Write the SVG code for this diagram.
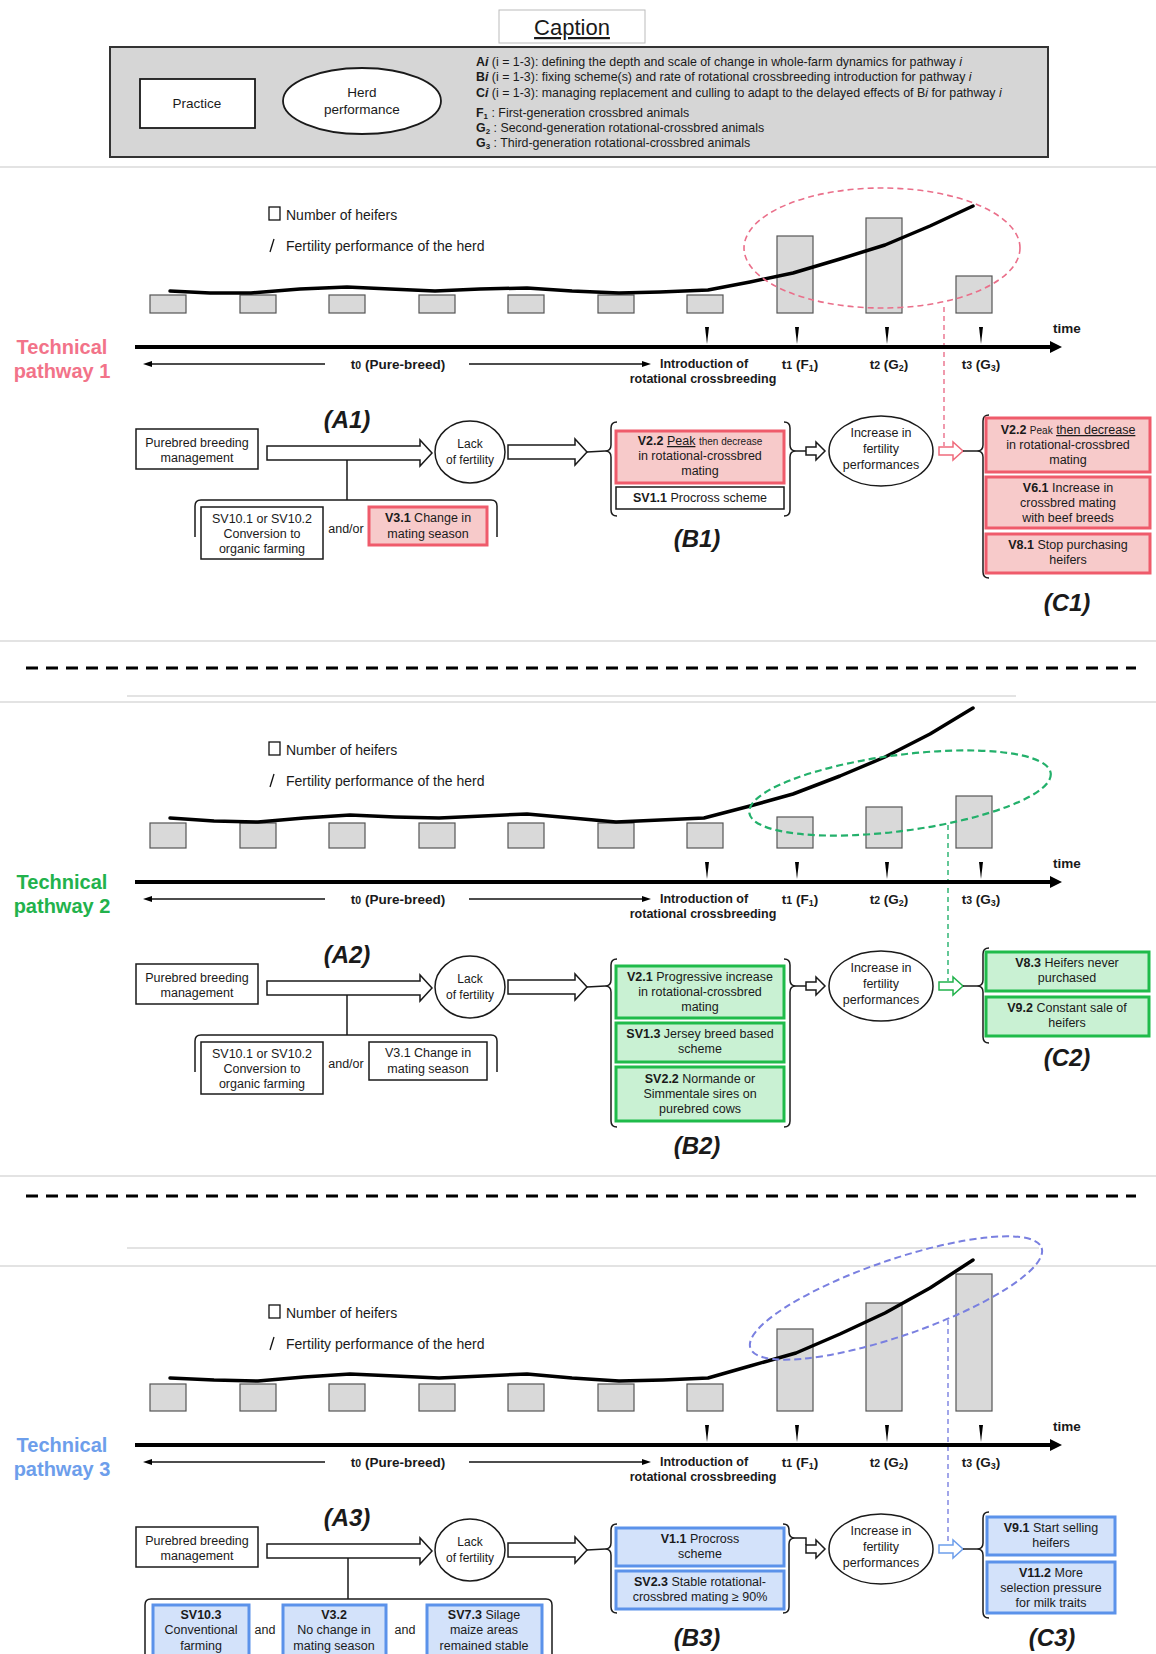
<svg xmlns="http://www.w3.org/2000/svg" width="1156" height="1654" viewBox="0 0 1156 1654">
<defs>
<style>
text{font-family:"Liberation Sans",Arial,sans-serif;fill:#1a1a1a}
.s{font-size:12.5px;text-anchor:middle}
.sm{font-size:10px}
.b{font-weight:bold}
.lg{font-size:14px}
.ax{font-size:12.5px;font-weight:bold;text-anchor:middle}
.tl{font-size:13.5px;font-weight:bold;text-anchor:middle}
.tag{font-size:24px;font-weight:bold;font-style:italic;text-anchor:middle}
.lab{font-size:20px;font-weight:bold;text-anchor:middle}
.cap{font-size:12.4px}
.box{fill:#fff;stroke:#1a1a1a;stroke-width:1.5}
.red{fill:#f7caca;stroke:#ef5b6b;stroke-width:3}
.grn{fill:#c9f1d3;stroke:#1fbb4a;stroke-width:3}
.blu{fill:#d3e2fa;stroke:#5b92ea;stroke-width:3}
.bar{fill:#d9d9d9;stroke:#555;stroke-width:1.2}
.curve{fill:none;stroke:#000;stroke-width:3.5;stroke-linejoin:round;stroke-linecap:round}
.ell{fill:#fff;stroke:#1a1a1a;stroke-width:1.5}
.ln{fill:none;stroke:#1a1a1a;stroke-width:1.5}
.ha{fill:#fff;stroke:#1a1a1a;stroke-width:1.5}
.axis{stroke:#000;stroke-width:4}
.tk{fill:#000}
.sep{stroke:#c8c8c8;stroke-width:1.2}
.dash{stroke:#000;stroke-width:3;stroke-dasharray:12 8}
</style>
</defs>

<!-- separators -->
<g id="separators">
<line class="sep" x1="0" y1="167" x2="1156" y2="167"/>
<line class="sep" x1="0" y1="641" x2="1156" y2="641"/>
<line class="dash" x1="26" y1="668" x2="1136" y2="668"/>
<line class="sep" x1="127" y1="696" x2="1016" y2="696"/>
<line class="sep" x1="0" y1="702" x2="1156" y2="702"/>
<line class="sep" x1="0" y1="1176" x2="1156" y2="1176"/>
<line class="dash" x1="26" y1="1196" x2="1136" y2="1196"/>
<line class="sep" x1="127" y1="1248" x2="1039" y2="1248"/>
<line class="sep" x1="0" y1="1266" x2="1156" y2="1266"/>
</g>

<!-- caption -->
<g id="caption">
<rect x="499" y="10" width="146" height="33" fill="#fff" stroke="#bbb" stroke-width="1"/>
<text x="572" y="35" font-size="22" text-anchor="middle" text-decoration="underline">Caption</text>
<rect x="110" y="47" width="938" height="110" fill="#d6d6d6" stroke="#333" stroke-width="2"/>
<g id="cap-practice"><rect x="140" y="79" width="115" height="49" fill="#fff" stroke="#1a1a1a" stroke-width="1.8"/>
<text x="197" y="108" font-size="13.5" text-anchor="middle">Practice</text></g>
<g id="cap-herd"><ellipse cx="362" cy="101" rx="79" ry="33" fill="#fff" stroke="#1a1a1a" stroke-width="1.8"/>
<text x="362" y="97" font-size="13.5" text-anchor="middle">Herd</text>
<text x="362" y="114" font-size="13.5" text-anchor="middle">performance</text></g>
<text class="cap" x="476" y="66"><tspan class="b">A<tspan font-style="italic">i</tspan></tspan> (i = 1-3): defining the depth and scale of change in whole-farm dynamics for pathway <tspan font-style="italic">i</tspan></text>
<text class="cap" x="476" y="81"><tspan class="b">B<tspan font-style="italic">i</tspan></tspan> (i = 1-3): fixing scheme(s) and rate of rotational crossbreeding introduction for pathway <tspan font-style="italic">i</tspan></text>
<text class="cap" x="476" y="97"><tspan class="b">C<tspan font-style="italic">i</tspan></tspan> (i = 1-3): managing replacement and culling to adapt to the delayed effects of B<tspan font-style="italic">i</tspan> for pathway <tspan font-style="italic">i</tspan></text>
<text class="cap" x="476" y="117"><tspan class="b">F<tspan font-size="8" dy="2">1</tspan></tspan><tspan dy="-2"> : First-generation crossbred animals</tspan></text>
<text class="cap" x="476" y="132"><tspan class="b">G<tspan font-size="8" dy="2">2</tspan></tspan><tspan dy="-2"> :  Second-generation rotational-crossbred animals</tspan></text>
<text class="cap" x="476" y="147"><tspan class="b">G<tspan font-size="8" dy="2">3</tspan></tspan><tspan dy="-2"> : Third-generation rotational-crossbred animals</tspan></text>
</g>

<!-- ================= PATHWAY 1 ================= -->
<g id="pathway1">
<g id="p1-label"><text class="lab" x="62" y="354" style="fill:#f27389">Technical</text><text class="lab" x="62" y="378" style="fill:#f27389">pathway 1</text></g>
<g id="p1-chart">
<rect x="269" y="207" width="11" height="13" fill="#fff" stroke="#111" stroke-width="1.3"/>
<text class="lg" x="286" y="220">Number of heifers</text>
<line x1="270" y1="252" x2="274" y2="239" stroke="#111" stroke-width="1.3"/>
<text class="lg" x="286" y="251">Fertility performance of the herd</text>
<rect class="bar" x="150" y="295" width="36" height="18"/><rect class="bar" x="240" y="295" width="36" height="18"/><rect class="bar" x="329" y="295" width="36" height="18"/><rect class="bar" x="419" y="295" width="36" height="18"/><rect class="bar" x="508" y="295" width="36" height="18"/><rect class="bar" x="598" y="295" width="36" height="18"/><rect class="bar" x="687" y="295" width="36" height="18"/>
<rect class="bar" x="777" y="236" width="36" height="77"/><rect class="bar" x="866" y="218" width="36" height="95"/><rect class="bar" x="956" y="276" width="36" height="37"/>
<polyline class="curve" points="170,291 210,293 251,293 300,289 347,287 390,289 435,291 480,289 527,288 572,291 619,293 660,292 708,290 750,282 793,273 840,259 885,245 930,226 973,206"/>
<ellipse cx="882" cy="248" rx="138" ry="60" fill="none" stroke="#ea6f8a" stroke-width="1.6" stroke-dasharray="6 4"/>
<line x1="944" y1="307" x2="944" y2="446" stroke="#ea6f8a" stroke-width="1.4" stroke-dasharray="5 4"/>
<line class="axis" x1="135" y1="347" x2="1052" y2="347"/><polygon class="tk" points="1050,341 1062,347 1050,353"/>
<polygon class="tk" points="705,327 709,327 707,344"/><polygon class="tk" points="795,327 799,327 797,344"/><polygon class="tk" points="885,327 889,327 887,344"/><polygon class="tk" points="979,327 983,327 981,344"/>
<text x="1067" y="333" font-size="13.5" font-weight="bold" text-anchor="middle">time</text>
<line x1="148" y1="364" x2="325" y2="364" stroke="#111" stroke-width="1.3"/><polygon class="tk" points="143,364 152,361 152,367"/>
<line x1="469" y1="364" x2="645" y2="364" stroke="#111" stroke-width="1.3"/><polygon class="tk" points="651,364 642,361 642,367"/>
<text class="tl" x="398" y="369">t<tspan font-size="10.5">0</tspan> (Pure-breed)</text>
<text class="ax" x="704" y="368">Introduction of</text>
<text class="ax" x="703" y="383">rotational crossbreeding</text>
<text class="tl" x="800" y="369">t<tspan font-size="10.5">1</tspan> (F<tspan font-size="9" dy="2">1</tspan><tspan dy="-2">)</tspan></text>
<text class="tl" x="889" y="369">t<tspan font-size="10.5">2</tspan> (G<tspan font-size="9" dy="2">2</tspan><tspan dy="-2">)</tspan></text>
<text class="tl" x="981" y="369">t<tspan font-size="10.5">3</tspan> (G<tspan font-size="9" dy="2">3</tspan><tspan dy="-2">)</tspan></text>
</g>
<g id="p1-connectors">
<polygon class="ha" points="267,446 420,446 420,440 432,453 420,466 420,460 267,460"/>
<path class="ln" d="M347,460 V500 M195,537 V506 Q195,500 201,500 H491 Q497,500 497,506 V537"/>
<polygon class="ha" points="508,445 575,445 575,439 587,452 575,465 575,459 508,459"/>
<line class="ln" x1="587" y1="452" x2="605" y2="451"/>
<path class="ln" d="M617,422 Q611,422 611,428 V445 Q611,451 605,451 Q611,451 611,457 V510 Q611,516 617,516"/>
<path class="ln" d="M784,422 Q790,422 790,428 V445 Q790,451 796,451 Q790,451 790,457 V510 Q790,516 784,516"/>
<line class="ln" x1="796" y1="451" x2="806" y2="451"/>
<polygon class="ha" points="806,447 816,447 816,442 825,451 816,460 816,455 806,455"/>
<polygon class="ha" points="939,447 953,447 953,442 963,451 953,460 953,455 939,455" style="stroke:#ef6b7c"/>
<line class="ln" x1="963" y1="451" x2="977" y2="451"/>
<path class="ln" d="M989,415 Q983,415 983,421 V445 Q983,451 977,451 Q983,451 983,457 V572 Q983,578 989,578"/>
</g>
<g id="p1-tagA"><text class="tag" x="347" y="428">(A1)</text></g>
<g id="p1-purebred"><rect class="box" x="136" y="429" width="122" height="40"/><text class="s" x="197" y="447">Purebred breeding</text><text class="s" x="197" y="462">management</text></g>
<g id="p1-lack"><ellipse class="ell" cx="470" cy="452" rx="35" ry="31"/><text class="s" x="470" y="448" style="font-size:12px">Lack</text><text class="s" x="470" y="464" style="font-size:12px">of fertility</text></g>
<g id="p1-sv10"><rect class="box" x="201" y="507" width="122" height="52"/><text class="s" x="262" y="523">SV10.1 or SV10.2</text><text class="s" x="262" y="538">Conversion to</text><text class="s" x="262" y="553">organic farming</text></g>
<text class="s" x="346" y="533">and/or</text>
<g id="p1-v31"><rect class="red" x="369" y="507" width="118" height="38"/><text class="s" x="428" y="522"><tspan class="b">V3.1</tspan> Change in</text><text class="s" x="428" y="538">mating season</text></g>
<g id="p1-v22b"><rect class="red" x="616" y="431" width="168" height="52"/><text class="s" x="700" y="445"><tspan class="b">V2.2</tspan> <tspan text-decoration="underline">Peak</tspan> <tspan class="sm">then decrease</tspan></text><text class="s" x="700" y="460">in rotational-crossbred</text><text class="s" x="700" y="475">mating</text></g>
<g id="p1-sv11"><rect class="box" x="616" y="487" width="168" height="22"/><text class="s" x="700" y="502"><tspan class="b">SV1.1</tspan> Procross scheme</text></g>
<g id="p1-tagB"><text class="tag" x="697" y="547">(B1)</text></g>
<g id="p1-increase"><ellipse class="ell" cx="881" cy="451" rx="52" ry="35"/><text class="s" x="881" y="437">Increase in</text><text class="s" x="881" y="453">fertility</text><text class="s" x="881" y="469">performances</text></g>
<g id="p1-v22c"><rect class="red" x="986" y="418" width="164" height="54"/><text class="s" x="1068" y="434"><tspan class="b">V2.2</tspan> <tspan class="sm">Peak</tspan> <tspan text-decoration="underline">then decrease</tspan></text><text class="s" x="1068" y="449">in rotational-crossbred</text><text class="s" x="1068" y="464">mating</text></g>
<g id="p1-v61"><rect class="red" x="986" y="477" width="164" height="51"/><text class="s" x="1068" y="492"><tspan class="b">V6.1</tspan> Increase in</text><text class="s" x="1068" y="507">crossbred mating</text><text class="s" x="1068" y="522">with beef breeds</text></g>
<g id="p1-v81"><rect class="red" x="986" y="534" width="164" height="39"/><text class="s" x="1068" y="549"><tspan class="b">V8.1</tspan> Stop purchasing</text><text class="s" x="1068" y="564">heifers</text></g>
<g id="p1-tagC"><text class="tag" x="1067" y="611">(C1)</text></g>
</g>

<!-- ================= PATHWAY 2 ================= -->
<g id="pathway2" transform="translate(0,535)">
<g id="p2-label"><text class="lab" x="62" y="354" style="fill:#22b24c">Technical</text><text class="lab" x="62" y="378" style="fill:#22b24c">pathway 2</text></g>
<g id="p2-chart">
<rect x="269" y="207" width="11" height="13" fill="#fff" stroke="#111" stroke-width="1.3"/>
<text class="lg" x="286" y="220">Number of heifers</text>
<line x1="270" y1="252" x2="274" y2="239" stroke="#111" stroke-width="1.3"/>
<text class="lg" x="286" y="251">Fertility performance of the herd</text>
<rect class="bar" x="150" y="288" width="36" height="25"/><rect class="bar" x="240" y="288" width="36" height="25"/><rect class="bar" x="329" y="288" width="36" height="25"/><rect class="bar" x="419" y="288" width="36" height="25"/><rect class="bar" x="508" y="288" width="36" height="25"/><rect class="bar" x="598" y="288" width="36" height="25"/><rect class="bar" x="687" y="288" width="36" height="25"/>
<rect class="bar" x="777" y="282" width="36" height="31"/><rect class="bar" x="866" y="272" width="36" height="41"/><rect class="bar" x="956" y="261" width="36" height="52"/>
<polyline class="curve" points="170,283 214,286 258,287 304,283 350,280 395,282 439,283 483,281 527,279 572,283 616,287 660,285 704,283 750,271 793,259 840,241 885,222 930,199 973,173"/>
<ellipse cx="900" cy="258" rx="152" ry="38" transform="rotate(-7.5 900 258)" fill="none" stroke="#23b06b" stroke-width="2.2" stroke-dasharray="7 4"/>
<line x1="948" y1="290" x2="948" y2="446" stroke="#23b06b" stroke-width="1.4" stroke-dasharray="5 4"/>
<line class="axis" x1="135" y1="347" x2="1052" y2="347"/><polygon class="tk" points="1050,341 1062,347 1050,353"/>
<polygon class="tk" points="705,327 709,327 707,344"/><polygon class="tk" points="795,327 799,327 797,344"/><polygon class="tk" points="885,327 889,327 887,344"/><polygon class="tk" points="979,327 983,327 981,344"/>
<text x="1067" y="333" font-size="13.5" font-weight="bold" text-anchor="middle">time</text>
<line x1="148" y1="364" x2="325" y2="364" stroke="#111" stroke-width="1.3"/><polygon class="tk" points="143,364 152,361 152,367"/>
<line x1="469" y1="364" x2="645" y2="364" stroke="#111" stroke-width="1.3"/><polygon class="tk" points="651,364 642,361 642,367"/>
<text class="tl" x="398" y="369">t<tspan font-size="10.5">0</tspan> (Pure-breed)</text>
<text class="ax" x="704" y="368">Introduction of</text>
<text class="ax" x="703" y="383">rotational crossbreeding</text>
<text class="tl" x="800" y="369">t<tspan font-size="10.5">1</tspan> (F<tspan font-size="9" dy="2">1</tspan><tspan dy="-2">)</tspan></text>
<text class="tl" x="889" y="369">t<tspan font-size="10.5">2</tspan> (G<tspan font-size="9" dy="2">2</tspan><tspan dy="-2">)</tspan></text>
<text class="tl" x="981" y="369">t<tspan font-size="10.5">3</tspan> (G<tspan font-size="9" dy="2">3</tspan><tspan dy="-2">)</tspan></text>
</g>
<g id="p2-connectors">
<polygon class="ha" points="267,446 420,446 420,440 432,453 420,466 420,460 267,460"/>
<path class="ln" d="M347,460 V500 M195,537 V506 Q195,500 201,500 H491 Q497,500 497,506 V537"/>
<polygon class="ha" points="508,445 575,445 575,439 587,452 575,465 575,459 508,459"/>
<line class="ln" x1="587" y1="452" x2="605" y2="451"/>
<path class="ln" d="M617,424 Q611,424 611,430 V445 Q611,451 605,451 Q611,451 611,457 V586 Q611,592 617,592"/>
<path class="ln" d="M784,424 Q790,424 790,430 V445 Q790,451 796,451 Q790,451 790,457 V586 Q790,592 784,592"/>
<line class="ln" x1="796" y1="451" x2="806" y2="451"/>
<polygon class="ha" points="806,447 816,447 816,442 825,451 816,460 816,455 806,455"/>
<polygon class="ha" points="939,447 953,447 953,442 963,451 953,460 953,455 939,455" style="stroke:#22b24c"/>
<line class="ln" x1="963" y1="451" x2="977" y2="451"/>
<path class="ln" d="M989,413 Q983,413 983,419 V445 Q983,451 977,451 Q983,451 983,457 V502 Q983,508 989,508"/>
</g>
<g id="p2-tagA"><text class="tag" x="347" y="428">(A2)</text></g>
<g id="p2-purebred"><rect class="box" x="136" y="429" width="122" height="40"/><text class="s" x="197" y="447">Purebred breeding</text><text class="s" x="197" y="462">management</text></g>
<g id="p2-lack"><ellipse class="ell" cx="470" cy="452" rx="35" ry="31"/><text class="s" x="470" y="448" style="font-size:12px">Lack</text><text class="s" x="470" y="464" style="font-size:12px">of fertility</text></g>
<g id="p2-sv10"><rect class="box" x="201" y="507" width="122" height="52"/><text class="s" x="262" y="523">SV10.1 or SV10.2</text><text class="s" x="262" y="538">Conversion to</text><text class="s" x="262" y="553">organic farming</text></g>
<text class="s" x="346" y="533">and/or</text>
<g id="p2-v31"><rect class="box" x="369" y="507" width="118" height="38"/><text class="s" x="428" y="522">V3.1 Change in</text><text class="s" x="428" y="538">mating season</text></g>
<g id="p2-v21"><rect class="grn" x="616" y="431" width="168" height="52"/><text class="s" x="700" y="446"><tspan class="b">V2.1</tspan> Progressive increase</text><text class="s" x="700" y="461">in rotational-crossbred</text><text class="s" x="700" y="476">mating</text></g>
<g id="p2-sv13"><rect class="grn" x="616" y="488" width="168" height="39"/><text class="s" x="700" y="503"><tspan class="b">SV1.3</tspan> Jersey breed based</text><text class="s" x="700" y="518">scheme</text></g>
<g id="p2-sv22"><rect class="grn" x="616" y="532" width="168" height="54"/><text class="s" x="700" y="548"><tspan class="b">SV2.2</tspan> Normande or</text><text class="s" x="700" y="563">Simmentale sires on</text><text class="s" x="700" y="578">purebred cows</text></g>
<g id="p2-tagB"><text class="tag" x="697" y="619">(B2)</text></g>
<g id="p2-increase"><ellipse class="ell" cx="881" cy="451" rx="52" ry="35"/><text class="s" x="881" y="437">Increase in</text><text class="s" x="881" y="453">fertility</text><text class="s" x="881" y="469">performances</text></g>
<g id="p2-v83"><rect class="grn" x="986" y="417" width="163" height="39"/><text class="s" x="1067" y="432"><tspan class="b">V8.3</tspan> Heifers never</text><text class="s" x="1067" y="447">purchased</text></g>
<g id="p2-v92"><rect class="grn" x="986" y="462" width="163" height="39"/><text class="s" x="1067" y="477"><tspan class="b">V9.2</tspan> Constant sale of</text><text class="s" x="1067" y="492">heifers</text></g>
<g id="p2-tagC"><text class="tag" x="1067" y="531">(C2)</text></g>
</g>

<!-- ================= PATHWAY 3 ================= -->
<g id="pathway3" transform="translate(0,1098)">
<g id="p3-label"><text class="lab" x="62" y="354" style="fill:#6d9eeb">Technical</text><text class="lab" x="62" y="378" style="fill:#6d9eeb">pathway 3</text></g>
<g id="p3-chart">
<rect x="269" y="207" width="11" height="13" fill="#fff" stroke="#111" stroke-width="1.3"/>
<text class="lg" x="286" y="220">Number of heifers</text>
<line x1="270" y1="252" x2="274" y2="239" stroke="#111" stroke-width="1.3"/>
<text class="lg" x="286" y="251">Fertility performance of the herd</text>
<rect class="bar" x="150" y="286" width="36" height="27"/><rect class="bar" x="240" y="286" width="36" height="27"/><rect class="bar" x="329" y="286" width="36" height="27"/><rect class="bar" x="419" y="286" width="36" height="27"/><rect class="bar" x="508" y="286" width="36" height="27"/><rect class="bar" x="598" y="286" width="36" height="27"/><rect class="bar" x="687" y="286" width="36" height="27"/>
<rect class="bar" x="777" y="231" width="36" height="82"/><rect class="bar" x="866" y="205" width="36" height="108"/><rect class="bar" x="956" y="176" width="36" height="137"/>
<polyline class="curve" points="170,280 214,282 258,283 304,279 350,276 395,278 439,280 483,278 527,276 572,280 619,283 663,282 708,280 750,268 796,255 840,236 885,215 930,190 973,162"/>
<ellipse cx="896" cy="200" rx="154" ry="38" transform="rotate(-19 896 200)" fill="none" stroke="#7a80e0" stroke-width="2" stroke-dasharray="7 4"/>
<line x1="948" y1="222" x2="948" y2="446" stroke="#7a80e0" stroke-width="1.4" stroke-dasharray="5 4"/>
<line class="axis" x1="135" y1="347" x2="1052" y2="347"/><polygon class="tk" points="1050,341 1062,347 1050,353"/>
<polygon class="tk" points="705,327 709,327 707,344"/><polygon class="tk" points="795,327 799,327 797,344"/><polygon class="tk" points="885,327 889,327 887,344"/><polygon class="tk" points="979,327 983,327 981,344"/>
<text x="1067" y="333" font-size="13.5" font-weight="bold" text-anchor="middle">time</text>
<line x1="148" y1="364" x2="325" y2="364" stroke="#111" stroke-width="1.3"/><polygon class="tk" points="143,364 152,361 152,367"/>
<line x1="469" y1="364" x2="645" y2="364" stroke="#111" stroke-width="1.3"/><polygon class="tk" points="651,364 642,361 642,367"/>
<text class="tl" x="398" y="369">t<tspan font-size="10.5">0</tspan> (Pure-breed)</text>
<text class="ax" x="704" y="368">Introduction of</text>
<text class="ax" x="703" y="383">rotational crossbreeding</text>
<text class="tl" x="800" y="369">t<tspan font-size="10.5">1</tspan> (F<tspan font-size="9" dy="2">1</tspan><tspan dy="-2">)</tspan></text>
<text class="tl" x="889" y="369">t<tspan font-size="10.5">2</tspan> (G<tspan font-size="9" dy="2">2</tspan><tspan dy="-2">)</tspan></text>
<text class="tl" x="981" y="369">t<tspan font-size="10.5">3</tspan> (G<tspan font-size="9" dy="2">3</tspan><tspan dy="-2">)</tspan></text>
</g>
<g id="p3-connectors">
<polygon class="ha" points="267,446 420,446 420,440 432,453 420,466 420,460 267,460"/>
<path class="ln" d="M348,460 V501 M145,570 V507 Q145,501 151,501 H546 Q552,501 552,507 V570"/>
<polygon class="ha" points="508,445 575,445 575,439 587,452 575,465 575,459 508,459"/>
<line class="ln" x1="587" y1="452" x2="605" y2="451"/>
<path class="ln" d="M617,426 Q611,426 611,432 V445 Q611,451 605,451 Q611,451 611,457 V509 Q611,515 617,515"/>
<path class="ln" d="M783,426 Q789,426 789,432 V434 Q789,440 795,440 Q789,440 789,446 V509 Q789,515 783,515"/>
<path class="ln" d="M795,440 H806 V447"/>
<polygon class="ha" points="806,447 816,447 816,442 825,451 816,460 816,455 806,455"/>
<polygon class="ha" points="939,447 953,447 953,442 963,451 953,460 953,455 939,455" style="stroke:#6d9eeb"/>
<line class="ln" x1="963" y1="451" x2="977" y2="451"/>
<path class="ln" d="M989,414 Q983,414 983,420 V445 Q983,451 977,451 Q983,451 983,457 V514 Q983,520 989,520"/>
</g>
<g id="p3-tagA"><text class="tag" x="347" y="428">(A3)</text></g>
<g id="p3-purebred"><rect class="box" x="136" y="429" width="122" height="40"/><text class="s" x="197" y="447">Purebred breeding</text><text class="s" x="197" y="462">management</text></g>
<g id="p3-lack"><ellipse class="ell" cx="470" cy="452" rx="35" ry="31"/><text class="s" x="470" y="448" style="font-size:12px">Lack</text><text class="s" x="470" y="464" style="font-size:12px">of fertility</text></g>
<g id="p3-sv103"><rect class="blu" x="153" y="507" width="96" height="58"/><text class="s" x="201" y="521"><tspan class="b">SV10.3</tspan></text><text class="s" x="201" y="536">Conventional</text><text class="s" x="201" y="552">farming</text></g>
<text class="s" x="265" y="536">and</text>
<g id="p3-v32"><rect class="blu" x="283" y="507" width="103" height="58"/><text class="s" x="334" y="521"><tspan class="b">V3.2</tspan></text><text class="s" x="334" y="536">No change in</text><text class="s" x="334" y="552">mating season</text></g>
<text class="s" x="405" y="536">and</text>
<g id="p3-sv73"><rect class="blu" x="427" y="507" width="115" height="58"/><text class="s" x="484" y="521"><tspan class="b">SV7.3</tspan> Silage</text><text class="s" x="484" y="536">maize areas</text><text class="s" x="484" y="552">remained stable</text></g>
<g id="p3-v11"><rect class="blu" x="616" y="430" width="168" height="38"/><text class="s" x="700" y="445"><tspan class="b">V1.1</tspan> Procross</text><text class="s" x="700" y="460">scheme</text></g>
<g id="p3-sv23"><rect class="blu" x="616" y="473" width="168" height="38"/><text class="s" x="700" y="488"><tspan class="b">SV2.3</tspan> Stable rotational-</text><text class="s" x="700" y="503">crossbred mating ≥ 90%</text></g>
<g id="p3-tagB"><text class="tag" x="697" y="548">(B3)</text></g>
<g id="p3-increase"><ellipse class="ell" cx="881" cy="451" rx="52" ry="35"/><text class="s" x="881" y="437">Increase in</text><text class="s" x="881" y="453">fertility</text><text class="s" x="881" y="469">performances</text></g>
<g id="p3-v91"><rect class="blu" x="987" y="419" width="128" height="38"/><text class="s" x="1051" y="434"><tspan class="b">V9.1</tspan> Start selling</text><text class="s" x="1051" y="449">heifers</text></g>
<g id="p3-v112"><rect class="blu" x="987" y="464" width="128" height="51"/><text class="s" x="1051" y="479"><tspan class="b">V11.2</tspan> More</text><text class="s" x="1051" y="494">selection pressure</text><text class="s" x="1051" y="509">for milk traits</text></g>
<g id="p3-tagC"><text class="tag" x="1052" y="548">(C3)</text></g>
</g>
</svg>
